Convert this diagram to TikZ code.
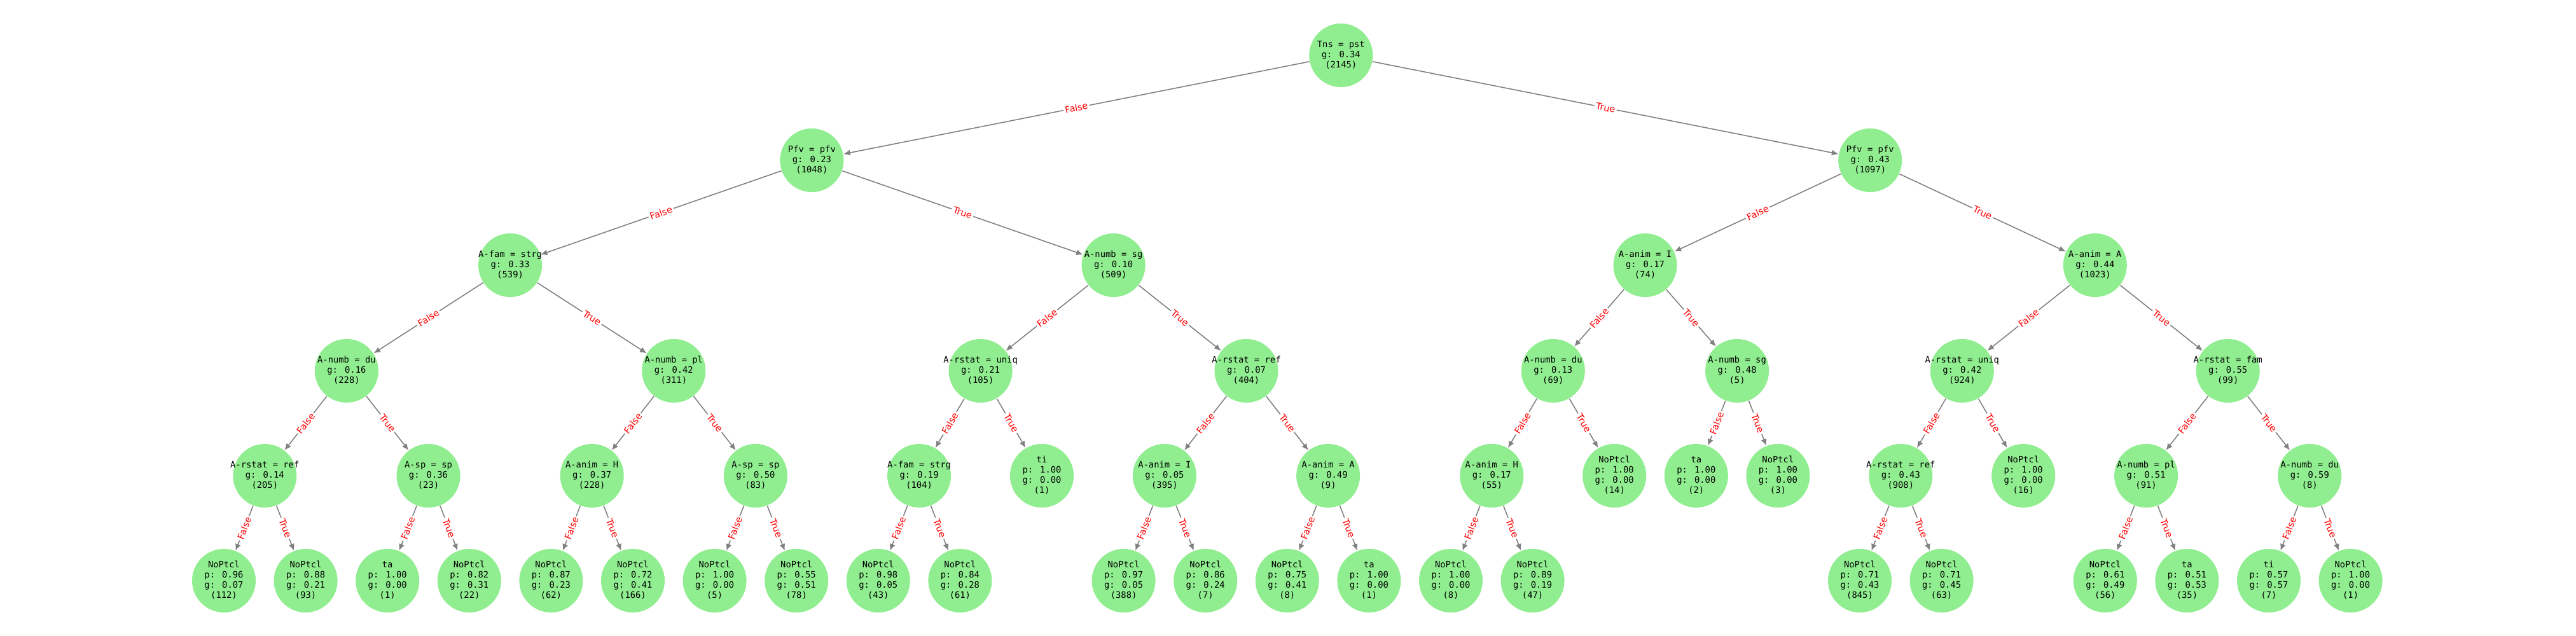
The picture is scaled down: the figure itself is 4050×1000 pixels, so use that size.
\documentclass[tikz,border=0pt]{standalone}
\usepackage{fontspec}
\newfontfamily\treemono{DejaVu Sans Mono}
\newfontfamily\treesans{DejaVu Sans}
\usetikzlibrary{arrows.meta}
\definecolor{nodegreen}{HTML}{90EE90}
\definecolor{edgegray}{HTML}{808080}
\definecolor{lblred}{HTML}{FF0000}
\newcommand\tlines[1]{\makebox[0pt]{\begin{tabular}{@{}c@{}}#1\end{tabular}}}
\tikzset{
  tn/.style={circle, fill=nodegreen, minimum size=1cm, inner sep=0pt,
    font=\treemono\fontsize{3.93}{4.55}\selectfont},
  edge/.style={draw=edgegray, line width=0.45pt, -{Latex[length=3pt,width=2.6pt]}},
  lbl/.style={sloped, fill=white, inner sep=0.7pt, text=lblred,
    font=\treesans\fontsize{4.1}{4.5}\selectfont},
}
\begin{document}
\begin{tikzpicture}[x=0.01cm, y=-0.01cm]
\useasboundingbox (0,0) rectangle (4050,1000);
% level 0
\node[tn] (r) at (2108.3,87) {\tlines{Tns = pst\\g: 0.34\\(2145)}};
% level 1
\node[tn] (a) at (1276.4,252) {\tlines{Pfv = pfv\\g: 0.23\\(1048)}};
\node[tn] (b) at (2940.2,252) {\tlines{Pfv = pfv\\g: 0.43\\(1097)}};
% level 2
\node[tn] (aa) at (802.1,417) {\tlines{A-fam = strg\\g: 0.33\\(539)}};
\node[tn] (ab) at (1750.6,417) {\tlines{A-numb = sg\\g: 0.10\\(509)}};
\node[tn] (ba) at (2586.5,417) {\tlines{A-anim = I\\g: 0.17\\(74)}};
\node[tn] (bb) at (3293.8,417) {\tlines{A-anim = A\\g: 0.44\\(1023)}};
% level 3
\node[tn] (aaa) at (544.9,583) {\tlines{A-numb = du\\g: 0.16\\(228)}};
\node[tn] (aab) at (1059.3,583) {\tlines{A-numb = pl\\g: 0.42\\(311)}};
\node[tn] (aba) at (1541.6,583) {\tlines{A-rstat = uniq\\g: 0.21\\(105)}};
\node[tn] (abb) at (1959.5,583) {\tlines{A-rstat = ref\\g: 0.07\\(404)}};
\node[tn] (baa) at (2441.8,583) {\tlines{A-numb = du\\g: 0.13\\(69)}};
\node[tn] (bab) at (2731.1,583) {\tlines{A-numb = sg\\g: 0.48\\(5)}};
\node[tn] (bba) at (3084.8,583) {\tlines{A-rstat = uniq\\g: 0.42\\(924)}};
\node[tn] (bbb) at (3502.7,583) {\tlines{A-rstat = fam\\g: 0.55\\(99)}};
% level 4
\node[tn] (aaaa) at (416.3,748) {\tlines{A-rstat = ref\\g: 0.14\\(205)}};
\node[tn] (aaab) at (673.5,748) {\tlines{A-sp = sp\\g: 0.36\\(23)}};
\node[tn] (aaba) at (930.7,748) {\tlines{A-anim = H\\g: 0.37\\(228)}};
\node[tn] (aabb) at (1187.9,748) {\tlines{A-sp = sp\\g: 0.50\\(83)}};
\node[tn] (abaa) at (1445.1,748) {\tlines{A-fam = strg\\g: 0.19\\(104)}};
\node[tn] (abab) at (1638.0,748) {\tlines{ti\\p: 1.00\\g: 0.00\\(1)}};
\node[tn] (abba) at (1830.9,748) {\tlines{A-anim = I\\g: 0.05\\(395)}};
\node[tn] (abbb) at (2088.1,748) {\tlines{A-anim = A\\g: 0.49\\(9)}};
\node[tn] (baaa) at (2345.3,748) {\tlines{A-anim = H\\g: 0.17\\(55)}};
\node[tn] (baab) at (2538.2,748) {\tlines{NoPtcl\\p: 1.00\\g: 0.00\\(14)}};
\node[tn] (baba) at (2666.8,748) {\tlines{ta\\p: 1.00\\g: 0.00\\(2)}};
\node[tn] (babb) at (2795.4,748) {\tlines{NoPtcl\\p: 1.00\\g: 0.00\\(3)}};
\node[tn] (bbaa) at (2988.3,748) {\tlines{A-rstat = ref\\g: 0.43\\(908)}};
\node[tn] (bbab) at (3181.2,748) {\tlines{NoPtcl\\p: 1.00\\g: 0.00\\(16)}};
\node[tn] (bbba) at (3374.1,748) {\tlines{A-numb = pl\\g: 0.51\\(91)}};
\node[tn] (bbbb) at (3631.3,748) {\tlines{A-numb = du\\g: 0.59\\(8)}};
% level 5
\node[tn] (l0) at (352.0,913) {\tlines{NoPtcl\\p: 0.96\\g: 0.07\\(112)}};
\node[tn] (l1) at (480.6,913) {\tlines{NoPtcl\\p: 0.88\\g: 0.21\\(93)}};
\node[tn] (l2) at (609.2,913) {\tlines{ta\\p: 1.00\\g: 0.00\\(1)}};
\node[tn] (l3) at (737.8,913) {\tlines{NoPtcl\\p: 0.82\\g: 0.31\\(22)}};
\node[tn] (l4) at (866.4,913) {\tlines{NoPtcl\\p: 0.87\\g: 0.23\\(62)}};
\node[tn] (l5) at (995.0,913) {\tlines{NoPtcl\\p: 0.72\\g: 0.41\\(166)}};
\node[tn] (l6) at (1123.6,913) {\tlines{NoPtcl\\p: 1.00\\g: 0.00\\(5)}};
\node[tn] (l7) at (1252.2,913) {\tlines{NoPtcl\\p: 0.55\\g: 0.51\\(78)}};
\node[tn] (l8) at (1380.8,913) {\tlines{NoPtcl\\p: 0.98\\g: 0.05\\(43)}};
\node[tn] (l9) at (1509.4,913) {\tlines{NoPtcl\\p: 0.84\\g: 0.28\\(61)}};
\node[tn] (l11) at (1766.6,913) {\tlines{NoPtcl\\p: 0.97\\g: 0.05\\(388)}};
\node[tn] (l12) at (1895.2,913) {\tlines{NoPtcl\\p: 0.86\\g: 0.24\\(7)}};
\node[tn] (l13) at (2023.8,913) {\tlines{NoPtcl\\p: 0.75\\g: 0.41\\(8)}};
\node[tn] (l14) at (2152.4,913) {\tlines{ta\\p: 1.00\\g: 0.00\\(1)}};
\node[tn] (l15) at (2281.0,913) {\tlines{NoPtcl\\p: 1.00\\g: 0.00\\(8)}};
\node[tn] (l16) at (2409.6,913) {\tlines{NoPtcl\\p: 0.89\\g: 0.19\\(47)}};
\node[tn] (l20) at (2924.0,913) {\tlines{NoPtcl\\p: 0.71\\g: 0.43\\(845)}};
\node[tn] (l21) at (3052.6,913) {\tlines{NoPtcl\\p: 0.71\\g: 0.45\\(63)}};
\node[tn] (l23) at (3309.8,913) {\tlines{NoPtcl\\p: 0.61\\g: 0.49\\(56)}};
\node[tn] (l24) at (3438.4,913) {\tlines{ta\\p: 0.51\\g: 0.53\\(35)}};
\node[tn] (l25) at (3567.0,913) {\tlines{ti\\p: 0.57\\g: 0.57\\(7)}};
\node[tn] (l26) at (3695.6,913) {\tlines{NoPtcl\\p: 1.00\\g: 0.00\\(1)}};
% edges
\foreach \p/\f/\t in {r/a/b, a/aa/ab, b/ba/bb,
  aa/aaa/aab, ab/aba/abb, ba/baa/bab, bb/bba/bbb,
  aaa/aaaa/aaab, aab/aaba/aabb, aba/abaa/abab, abb/abba/abbb,
  baa/baaa/baab, bab/baba/babb, bba/bbaa/bbab, bbb/bbba/bbbb,
  aaaa/l0/l1, aaab/l2/l3, aaba/l4/l5, aabb/l6/l7, abaa/l8/l9,
  abba/l11/l12, abbb/l13/l14, baaa/l15/l16, bbaa/l20/l21,
  bbba/l23/l24, bbbb/l25/l26}{
  \draw[edge] (\p) -- node[lbl]{False} (\f);
  \draw[edge] (\p) -- node[lbl]{True} (\t);
}
\end{tikzpicture}
\end{document}
